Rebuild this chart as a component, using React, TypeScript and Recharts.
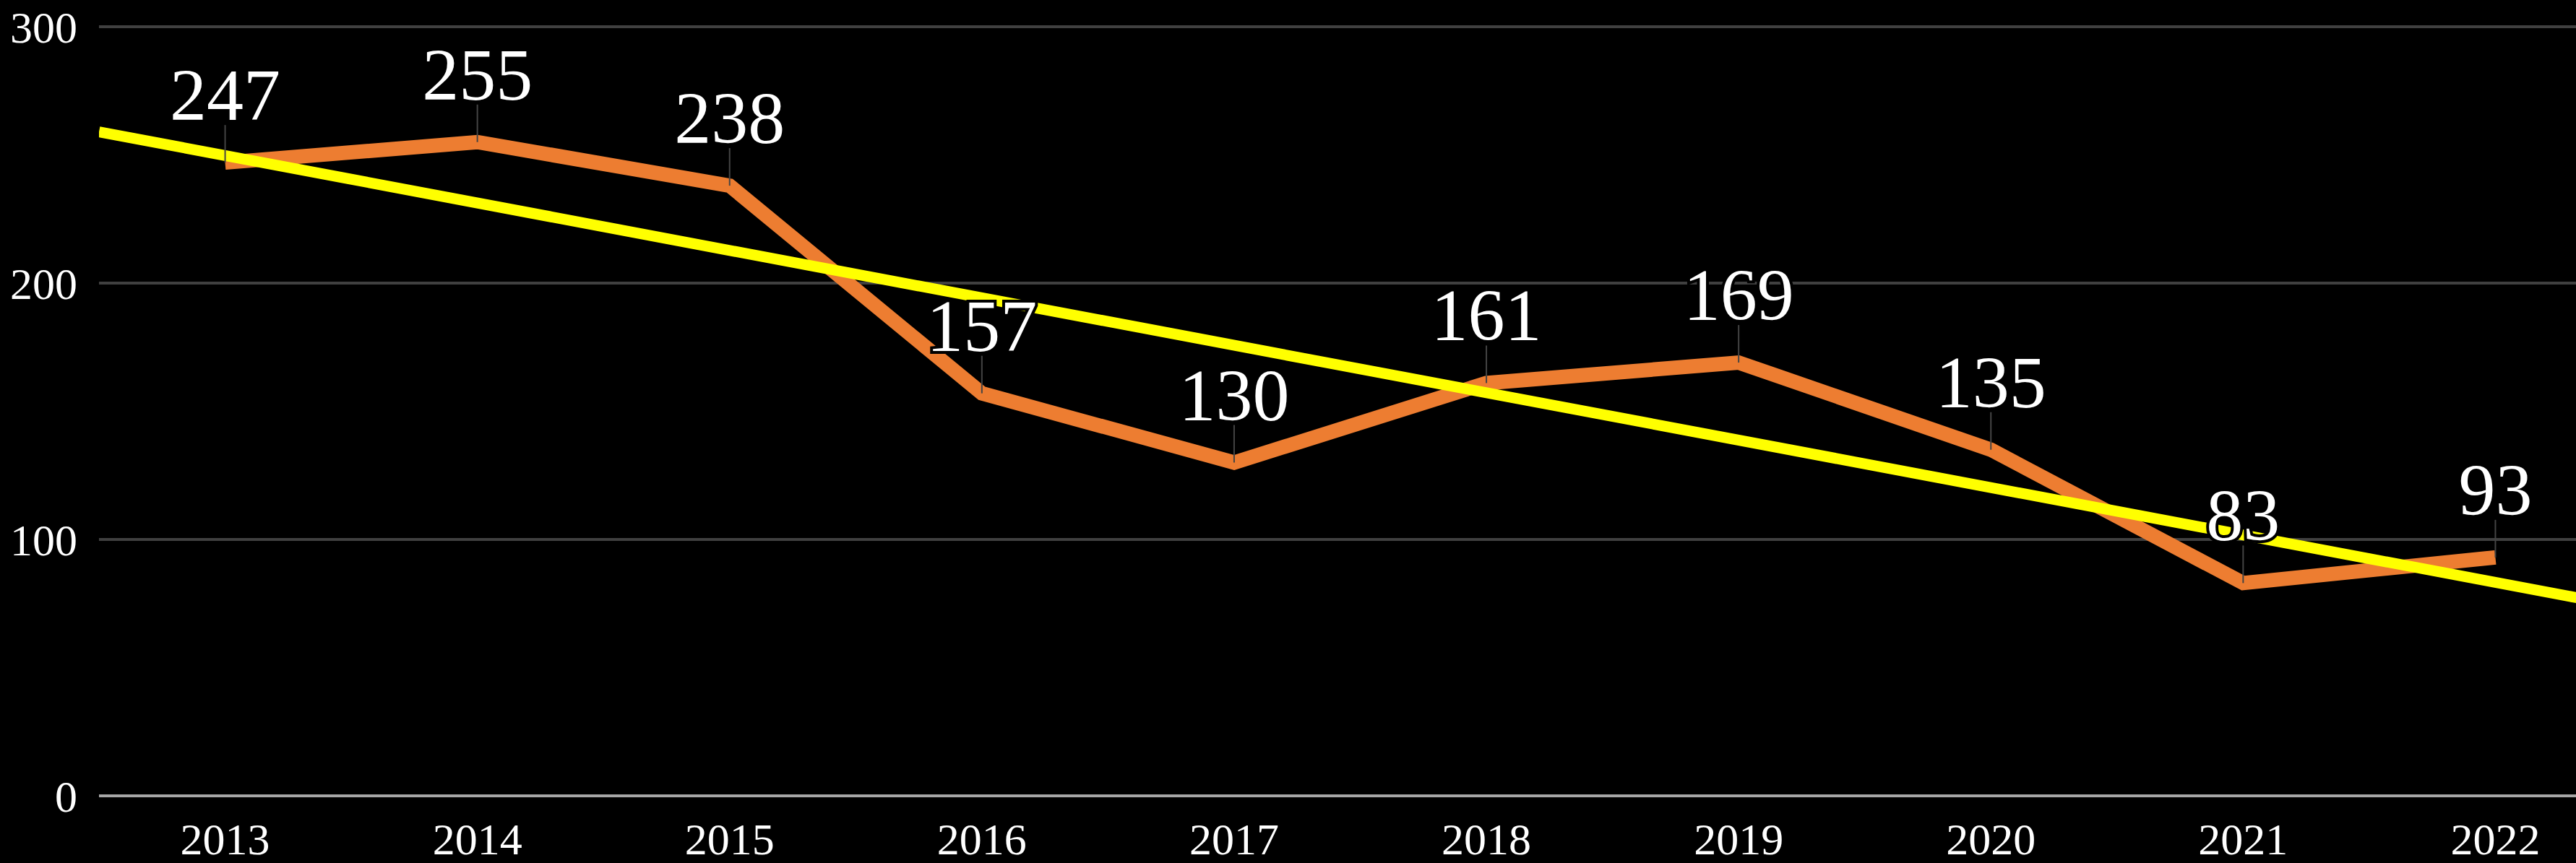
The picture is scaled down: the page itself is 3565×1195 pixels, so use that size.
import { LineChart, Line, XAxis, YAxis, CartesianGrid, LabelList } from "recharts";

const years = [2013, 2014, 2015, 2016, 2017, 2018, 2019, 2020, 2021, 2022];
const counts = [247, 255, 238, 157, 130, 161, 169, 135, 83, 93];
// linear trendline, read at the two edges of the plot area
const trendYears = [2012.5, 2022.5];
const trendValues = [259, 74];
const yTicks = [0, 100, 200, 300];

const rows = years.map((year, i) => ({ year, count: counts[i] }));
const trendRows = trendYears.map((year, i) => ({ year, trend: trendValues[i] }));

const serif = "'Liberation Serif', 'Times New Roman', serif";

function ValueLabel(props: any) {
  const { x, y, value } = props;
  if (x == null || y == null) return null;
  return (
    <g>
      <line x1={x} y1={y - 52} x2={x} y2={y} stroke="#444" strokeWidth={2} />
      <text
        x={x}
        y={y - 59}
        textAnchor="middle"
        fontSize={102}
        fontFamily={serif}
        fill="#fff"
        stroke="#000"
        strokeWidth={8}
        paintOrder="stroke"
      >
        {value}
      </text>
    </g>
  );
}

export default function App() {
  return (
    <div
      style={{
        position: "absolute",
        left: 0,
        top: 0,
        width: 3565,
        height: 1195,
        overflow: "hidden",
        background: "#000",
      }}
    >
      <LineChart width={3628} height={1195} margin={{ top: 37, right: 0, bottom: 0, left: 0 }}>
        <CartesianGrid vertical={false} stroke="#404040" strokeWidth={4} />
        <XAxis
          dataKey="year"
          type="number"
          domain={[2012.5, 2022.5]}
          ticks={years}
          allowDataOverflow
          interval={0}
          height={93}
          axisLine={{ stroke: "#a6a6a6", strokeWidth: 4 }}
          tickLine={false}
          tickMargin={31}
          tick={{ fill: "#fff", fontSize: 62, fontFamily: serif }}
        />
        <YAxis
          domain={[0, 300]}
          ticks={yTicks}
          width={137}
          axisLine={false}
          tickLine={false}
          tickMargin={24}
          tick={{ fill: "#fff", fontSize: 62, fontFamily: serif }}
        />
        <Line
          data={rows}
          dataKey="count"
          stroke="#ED7D31"
          strokeWidth={20}
          dot={false}
          activeDot={false}
          isAnimationActive={false}
        />
        <Line
          data={trendRows}
          dataKey="trend"
          stroke="#FFFF00"
          strokeWidth={15}
          dot={false}
          activeDot={false}
          isAnimationActive={false}
        />
        <Line
          data={rows}
          dataKey="count"
          stroke="none"
          dot={false}
          activeDot={false}
          isAnimationActive={false}
        >
          <LabelList dataKey="count" content={ValueLabel} />
        </Line>
      </LineChart>
    </div>
  );
}
